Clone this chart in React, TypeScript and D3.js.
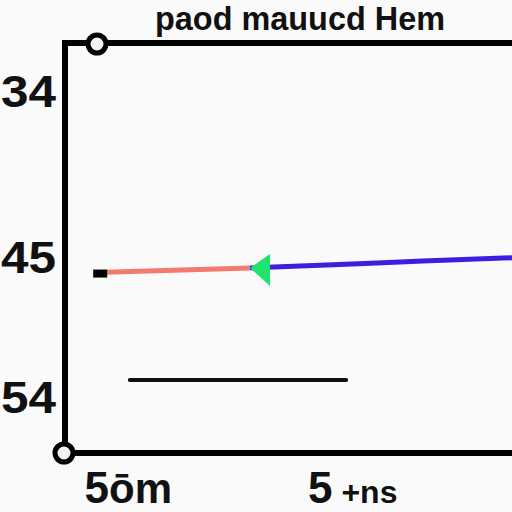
import React from "react";
import * as d3 from "d3";

const titleText = "paod mauucd Hem";
const yTickValues = [34, 45, 54];
const yTickLabels = ["34", "45", "54"];
const xTickValues = [16, 66];
const xTickMain = ["5", "5"];
const xTickRest = ["ōm", " +ns"];

const redX = [7.2, 41.4];
const redY = [46.0, 45.7];
const blueX = [41.4, 60, 80, 100];
const blueY = [45.7, 45.5, 45.26, 45.05];
const blackX = [14.5, 62.9];
const blackY = [52.9, 52.9];

const W = 512;
const H = 512;

export default function App() {
  const x = d3.scaleLinear().domain([0, 100]).range([65, 512]);
  const y = d3.scaleLinear().domain([34, 45, 54]).range([91, 257, 397]);
  const line = d3
    .line<[number, number]>()
    .x((d) => x(d[0]))
    .y((d) => y(d[1]))
    .curve(d3.curveMonotoneX);
  const red = redX.map((v, i) => [v, redY[i]] as [number, number]);
  const blue = blueX.map((v, i) => [v, blueY[i]] as [number, number]);
  const black = blackX.map((v, i) => [v, blackY[i]] as [number, number]);
  const tipX = x(blueX[0]);
  const tipY = y(blueY[0]);
  const font = "'Liberation Sans', Arial, sans-serif";
  return (
    <svg
      width={W}
      height={H}
      style={{ position: "absolute", left: 0, top: 0 }}
      fontFamily={font}
    >
      <rect width={W} height={H} fill="#fafafa" />
      <text x={155} y={30} fontSize={34} fontWeight="bold" textLength={290} lengthAdjust="spacingAndGlyphs" fill="#111">
        {titleText}
      </text>
      {/* frame */}
      <line x1={65} y1={43} x2={512} y2={43} stroke="#000" strokeWidth={6} />
      <line x1={65} y1={40} x2={65} y2={453} stroke="#000" strokeWidth={6} />
      <line x1={65} y1={453} x2={512} y2={453} stroke="#000" strokeWidth={6} />
      <circle cx={97} cy={44} r={9} fill="#f4f4f4" stroke="#000" strokeWidth={5} />
      <circle cx={64} cy={453} r={9} fill="#f4f4f4" stroke="#000" strokeWidth={5} />
      {/* y labels */}
      {yTickValues.map((v, i) => (
        <text key={i} x={1} y={y(v) + 16} fontSize={44} fontWeight="bold" fill="#111" textLength={55} lengthAdjust="spacingAndGlyphs">
          {yTickLabels[i]}
        </text>
      ))}
      {/* x labels */}
      {xTickValues.map((v, i) => (
        <text key={i} x={x(v) - 52} y={503} fontWeight="bold" fill="#111">
          <tspan fontSize={44}>{xTickMain[i]}</tspan>
          <tspan fontSize={i === 0 ? 42 : 32}>{xTickRest[i]}</tspan>
        </text>
      ))}
      {/* series */}
      <path d={line(red) || ""} fill="none" stroke="#f47a70" strokeWidth={5} />
      <path d={line(blue) || ""} fill="none" stroke="#3d1ee0" strokeWidth={5} />
      <path d={line(black) || ""} fill="none" stroke="#111" strokeWidth={4} strokeLinecap="round" />
      <rect x={x(redX[0]) - 4} y={y(redY[0]) - 3} width={14} height={8} fill="#000" />
      <path
        d={`M${tipX},${tipY} L${tipX + 20},${tipY - 14} L${tipX + 20},${tipY + 18} Z`}
        fill="#1fe36a"
      />
    </svg>
  );
}
